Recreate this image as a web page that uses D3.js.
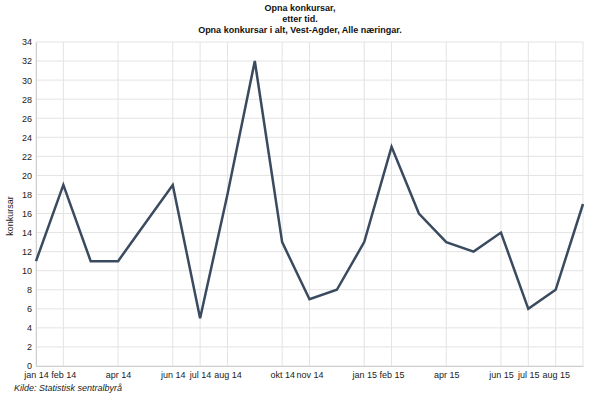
<!DOCTYPE html>
<html>
<head>
<meta charset="utf-8">
<script src="https://cdn.jsdelivr.net/npm/d3@7"></script>
<style>
  body { margin: 0; background: #fff; }
  text { font-family: "Liberation Sans", Arial, sans-serif; }
</style>
</head>
<body>
<div id="chart"></div>
<script>
var months = ["jan 14", "feb 14", "mar 14", "apr 14", "mai 14", "jun 14", "jul 14", "aug 14", "sep 14", "okt 14", "nov 14", "des 14",
              "jan 15", "feb 15", "mar 15", "apr 15", "mai 15", "jun 15", "jul 15", "aug 15", "sep 15"];
var konkursar = [11, 19, 11, 11, 15, 19, 5, 18, 32, 13, 7, 8, 13, 23, 16, 13, 12, 14, 6, 8, 17];
var xTickLabels = ["jan 14", "feb 14", "apr 14", "jun 14", "jul 14", "aug 14", "okt 14", "nov 14",
                   "jan 15", "feb 15", "apr 15", "jun 15", "jul 15", "aug 15"];
var yTicks = d3.range(0, 35, 2);
var titleLines = ["Opna konkursar,", "etter tid.", "Opna konkursar i alt, Vest-Agder, Alle næringar."];

var svgWidth = 600;
var svgHeight = 395;
var margin = { top: 42, right: 17, bottom: 29, left: 36 };
var width = svgWidth - margin.left - margin.right;
var height = svgHeight - margin.top - margin.bottom;

var svg = d3.select("#chart")
  .append("svg")
  .attr("width", svgWidth)
  .attr("height", svgHeight);

var chartGroup = svg.append("g")
  .attr("transform", `translate(${margin.left}, ${margin.top})`);

var xScale = d3.scalePoint()
  .domain(months)
  .range([0, width]);

var yScale = d3.scaleLinear()
  .domain([0, 34])
  .range([height, 0]);

// gridlines
chartGroup.selectAll("line.hgrid")
  .data(yTicks)
  .enter().append("line")
  .attr("class", "hgrid")
  .attr("x1", 0).attr("x2", width)
  .attr("y1", d => yScale(d)).attr("y2", d => yScale(d))
  .attr("stroke", "#e3e3e3")
  .attr("stroke-width", 1);

chartGroup.selectAll("line.vgrid")
  .data(xTickLabels.concat([months[months.length - 1]]))
  .enter().append("line")
  .attr("class", "vgrid")
  .attr("x1", d => xScale(d)).attr("x2", d => xScale(d))
  .attr("y1", 0).attr("y2", height)
  .attr("stroke", "#e3e3e3")
  .attr("stroke-width", 1);

// axes
var bottomAxis = d3.axisBottom(xScale).tickValues(xTickLabels).tickSize(0).tickPadding(6);
var leftAxis = d3.axisLeft(yScale).tickValues(yTicks).tickSize(0).tickPadding(4);

var xAxisG = chartGroup.append("g")
  .attr("transform", `translate(0, ${height})`)
  .call(bottomAxis);
xAxisG.select(".domain").attr("stroke", "#cfcfcf");
xAxisG.selectAll("text").style("font-size", "9px").attr("fill", "#222");

var yAxisG = chartGroup.append("g")
  .call(leftAxis);
yAxisG.select(".domain").attr("stroke", "#cfcfcf");
yAxisG.selectAll("text").style("font-size", "9px").attr("fill", "#222");

// line
var line = d3.line()
  .x((d, i) => xScale(months[i]))
  .y(d => yScale(d));

chartGroup.append("path")
  .datum(konkursar)
  .attr("fill", "none")
  .attr("stroke", "#3a4a5f")
  .attr("stroke-width", 2.5)
  .attr("stroke-linejoin", "miter")
  .attr("d", line);

// title
svg.append("g").selectAll("text")
  .data(titleLines)
  .enter().append("text")
  .attr("x", 300)
  .attr("y", (d, i) => 11 + i * 11)
  .attr("text-anchor", "middle")
  .style("font-size", "9px")
  .style("font-weight", "bold")
  .attr("fill", "#111")
  .text(d => d);

// axis label
svg.append("text")
  .attr("transform", `translate(13, ${margin.top + height / 2 + 12}) rotate(-90)`)
  .attr("text-anchor", "middle")
  .style("font-size", "9px")
  .attr("fill", "#222")
  .text("konkursar");

// source
svg.append("text")
  .attr("x", 14)
  .attr("y", 391)
  .style("font-size", "9px")
  .style("font-style", "italic")
  .attr("fill", "#222")
  .text("Kilde: Statistisk sentralbyrå");
</script>
</body>
</html>
